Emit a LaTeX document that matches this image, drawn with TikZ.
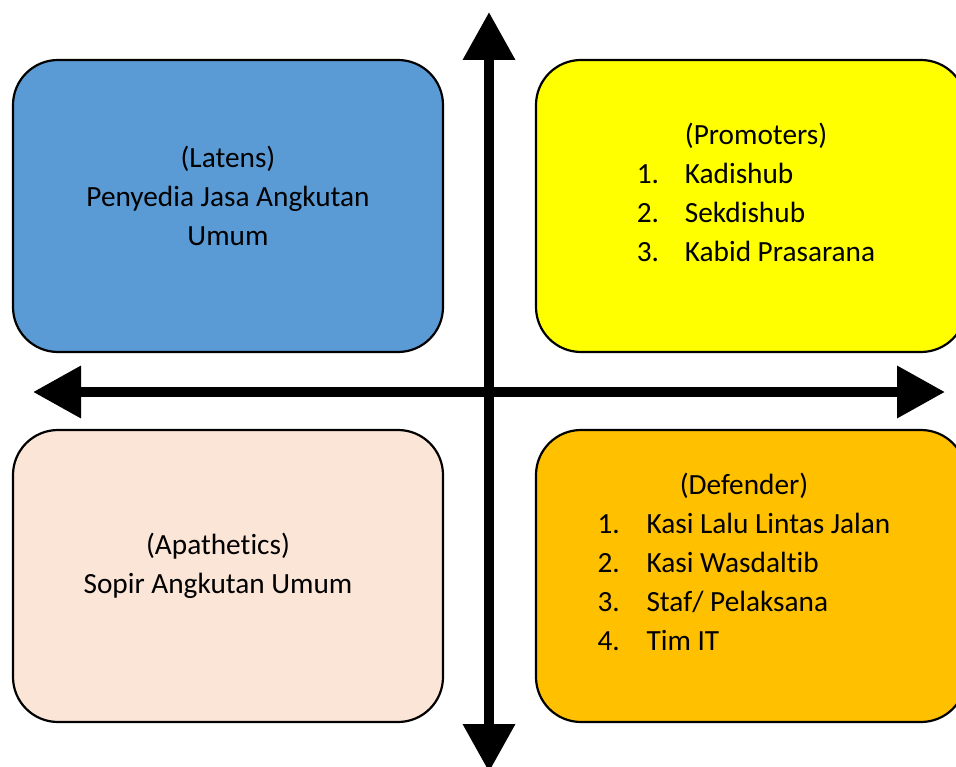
\documentclass[tikz,border=0pt]{standalone}
\usepackage{fontspec}
\setmainfont{Carlito}[Ligatures=NoCommon]
\usetikzlibrary{arrows.meta, positioning}
\definecolor{latenblue}{HTML}{5B9BD5}
\definecolor{promoteryellow}{HTML}{FFFF00}
\definecolor{apathpeach}{HTML}{FBE5D6}
\definecolor{defenderorange}{HTML}{FFC000}

\tikzset{
  quadbox/.style={draw=black, line width=2.2pt, rounded corners=45pt, minimum width=430pt, minimum height=292pt, inner sep=0pt},
  quadtext/.style={font=\fontsize{29.3}{39}\selectfont, align=center, inner sep=0pt},
  axisline/.style={line width=10pt, {Triangle[length=48pt,width=50pt]}-{Triangle[length=48pt,width=50pt]}}
}

\begin{document}
\begin{tikzpicture}[x=1pt, y=-1pt]
  \useasboundingbox (0,0) rectangle (956,767);
  \clip (0,0) rectangle (956,767);

  % the four quadrants
  \node[quadbox, fill=latenblue] (latens) at (228,206) {};
  \node[quadbox, fill=promoteryellow] (promoters) at (751,206) {};
  \node[quadbox, fill=apathpeach] (apathetics) at (228,576) {};
  \node[quadbox, fill=defenderorange] (defender) at (751,576) {};

  \node[quadtext] (latenstext) at (228,196) {(Latens)\\Penyedia Jasa Angkutan\\Umum};
  \node[quadtext] (apathtext) at (218,566) {(Apathetics)\\Sopir Angkutan Umum};
  \node[quadtext] (promotertext) at (756,195) {%
    \begin{tabular}{@{}p{48pt}@{}l@{}}
      \multicolumn{2}{@{}c@{}}{(Promoters)}\\
      1. & Kadishub\\
      2. & Sekdishub\\
      3. & Kabid Prasarana
    \end{tabular}};
  \node[quadtext] (defendertext) at (744,565) {%
    \begin{tabular}{@{}p{49pt}@{}l@{}}
      \multicolumn{2}{@{}c@{}}{(Defender)}\\
      1. & Kasi Lalu Lintas Jalan\\
      2. & Kasi Wasdaltib\\
      3. & Staf/ Pelaksana\\
      4. & Tim IT
    \end{tabular}};

  % axes
  \coordinate (ytop) at (489,12);
  \coordinate (ybottom) at (489,772);
  \coordinate (xleft) at (33,392);
  \coordinate (xright) at (945,392);
  \draw[axisline] (ybottom) -- (ytop);
  \draw[axisline] (xleft) -- (xright);
\end{tikzpicture}
\end{document}
